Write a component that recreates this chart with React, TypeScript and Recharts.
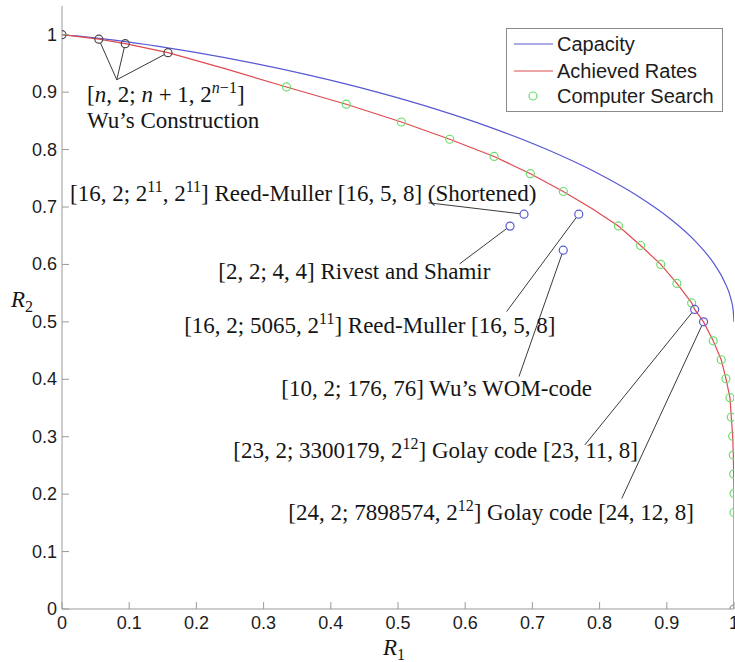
import { ComposedChart, XAxis, YAxis, Line, Scatter, ReferenceLine, ReferenceDot, Label } from "recharts"

const xTicks = [0, 0.1, 0.2, 0.3, 0.4, 0.5, 0.6, 0.7, 0.8, 0.9, 1]
const yTicks = [0, 0.1, 0.2, 0.3, 0.4, 0.5, 0.6, 0.7, 0.8, 0.9, 1]

// Capacity region boundary
const capacity = [
    { x: 0, y: 1 },
    { x: 0.0208, y: 0.998 },
    { x: 0.0454, y: 0.995 },
    { x: 0.0808, y: 0.99 },
    { x: 0.1414, y: 0.98 },
    { x: 0.1944, y: 0.97 },
    { x: 0.2423, y: 0.96 },
    { x: 0.2864, y: 0.95 },
    { x: 0.3659, y: 0.93 },
    { x: 0.469, y: 0.9 },
    { x: 0.5574, y: 0.87 },
    { x: 0.6343, y: 0.84 },
    { x: 0.7219, y: 0.8 },
    { x: 0.795, y: 0.76 },
    { x: 0.8555, y: 0.72 },
    { x: 0.9044, y: 0.68 },
    { x: 0.9427, y: 0.64 },
    { x: 0.971, y: 0.6 },
    { x: 0.9858, y: 0.57 },
    { x: 0.9954, y: 0.54 },
    { x: 0.9988, y: 0.52 },
    { x: 1, y: 0.5 },
]

// Achieved rates (red curve)
const achieved = [
    { x: 0, y: 1 },
    { x: 0.0548, y: 0.9922 },
    { x: 0.0941, y: 0.9844 },
    { x: 0.1577, y: 0.9688 },
    { x: 0.245, y: 0.94 },
    { x: 0.334, y: 0.909 },
    { x: 0.423, y: 0.879 },
    { x: 0.505, y: 0.848 },
    { x: 0.577, y: 0.818 },
    { x: 0.643, y: 0.788 },
    { x: 0.697, y: 0.758 },
    { x: 0.746, y: 0.727 },
    { x: 0.789, y: 0.697 },
    { x: 0.828, y: 0.667 },
    { x: 0.861, y: 0.633 },
    { x: 0.891, y: 0.6 },
    { x: 0.915, y: 0.567 },
    { x: 0.937, y: 0.533 },
    { x: 0.9415, y: 0.5217 },
    { x: 0.9547, y: 0.5 },
    { x: 0.969, y: 0.467 },
    { x: 0.981, y: 0.434 },
    { x: 0.988, y: 0.401 },
    { x: 0.994, y: 0.368 },
    { x: 0.996, y: 0.334 },
    { x: 0.998, y: 0.301 },
    { x: 0.999, y: 0.268 },
    { x: 0.9995, y: 0.235 },
    { x: 1, y: 0.201 },
    { x: 1, y: 0.168 },
    { x: 1, y: 0 },
]

const computerSearch = [
    { x: 0.334, y: 0.909 },
    { x: 0.423, y: 0.879 },
    { x: 0.505, y: 0.848 },
    { x: 0.577, y: 0.818 },
    { x: 0.643, y: 0.788 },
    { x: 0.697, y: 0.758 },
    { x: 0.746, y: 0.727 },
    { x: 0.828, y: 0.667 },
    { x: 0.861, y: 0.633 },
    { x: 0.891, y: 0.6 },
    { x: 0.915, y: 0.567 },
    { x: 0.937, y: 0.533 },
    { x: 0.969, y: 0.467 },
    { x: 0.981, y: 0.434 },
    { x: 0.988, y: 0.401 },
    { x: 0.994, y: 0.368 },
    { x: 0.996, y: 0.334 },
    { x: 0.998, y: 0.301 },
    { x: 0.999, y: 0.268 },
    { x: 0.9995, y: 0.235 },
    { x: 1, y: 0.201 },
    { x: 1, y: 0.168 },
]

const wuPoints = [
    { x: 0, y: 1 },
    { x: 0.0548, y: 0.9922 },
    { x: 0.0941, y: 0.9844 },
    { x: 0.1577, y: 0.9688 },
]

const codePoints = [
    { x: 0.6667, y: 0.6667 },
    { x: 0.6875, y: 0.6875 },
    { x: 0.769, y: 0.6875 },
    { x: 0.7459, y: 0.6248 },
    { x: 0.9415, y: 0.5217 },
    { x: 0.9547, y: 0.5 },
]

const cornerPoint = [{ x: 1, y: 0 }]

// leader lines: label end -> circle edge
const leaders = [
    [{ x: 0.0815, y: 0.9216 }, { x: 0.0572, y: 0.9857 }],
    [{ x: 0.0815, y: 0.9216 }, { x: 0.0927, y: 0.9775 }],
    [{ x: 0.0815, y: 0.9216 }, { x: 0.1525, y: 0.9655 }],
    [{ x: 0.5455, y: 0.7073 }, { x: 0.6815, y: 0.6883 }],
    [{ x: 0.5917, y: 0.601 }, { x: 0.6618, y: 0.6625 }],
    [{ x: 0.6617, y: 0.518 }, { x: 0.7654, y: 0.6819 }],
    [{ x: 0.68, y: 0.4047 }, { x: 0.744, y: 0.6181 }],
    [{ x: 0.778, y: 0.2857 }, { x: 0.9377, y: 0.5164 }],
    [{ x: 0.833, y: 0.1925 }, { x: 0.9522, y: 0.4937 }],
]

type Part = { t: string; sup?: boolean; it?: boolean }

const annotations: { x: number; y: number; parts: Part[] }[] = [
    {
        x: 0.0373, y: 0.8833, parts: [
            { t: "[" }, { t: "n", it: true }, { t: ", 2; " }, { t: "n", it: true }, { t: " + 1, 2" },
            { t: "n", sup: true, it: true }, { t: "−1", sup: true }, { t: "]" },
        ],
    },
    { x: 0.0373, y: 0.838, parts: [{ t: "Wu’s Construction" }] },
    {
        x: 0.0119, y: 0.7108, parts: [
            { t: "[16, 2; 2" }, { t: "11", sup: true }, { t: ", 2" }, { t: "11", sup: true },
            { t: "] Reed-Muller [16, 5, 8] (Shortened)" },
        ],
    },
    { x: 0.2325, y: 0.5749, parts: [{ t: "[2, 2; 4, 4] Rivest and Shamir" }] },
    {
        x: 0.1818, y: 0.48, parts: [
            { t: "[16, 2; 5065, 2" }, { t: "11", sup: true }, { t: "] Reed-Muller [16, 5, 8]" },
        ],
    },
    { x: 0.3264, y: 0.3702, parts: [{ t: "[10, 2; 176, 76] Wu’s WOM-code" }] },
    {
        x: 0.2548, y: 0.2631, parts: [
            { t: "[23, 2; 3300179, 2" }, { t: "12", sup: true }, { t: "] Golay code [23, 11, 8]" },
        ],
    },
    {
        x: 0.3368, y: 0.155, parts: [
            { t: "[24, 2; 7898574, 2" }, { t: "12", sup: true }, { t: "] Golay code [24, 12, 8]" },
        ],
    },
]

const sans = "'Liberation Sans', Arial, Helvetica, sans-serif"
const serif = "'Liberation Serif', 'Times New Roman', serif"
const axisColor = "#9a9a9a"
const blue = "#5858d4"
const red = "#e04a4f"
const green = "#6edc6e"

const fmt = (v: number) => String(Number(v.toFixed(1)))

const BottomTick = (p: any) => (
    <g>
        <line x1={p.x} y1={p.y} x2={p.x} y2={p.y - 7} stroke={axisColor} />
        <text x={p.x} y={p.y + 20} textAnchor="middle" fontSize={18} fill="#1c1c1c" fontFamily={sans}>
            {fmt(p.payload.value)}
        </text>
    </g>
)
const TopTick = (p: any) => <line x1={p.x} y1={p.y} x2={p.x} y2={p.y + 7} stroke={axisColor} />
const LeftTick = (p: any) => (
    <g>
        <line x1={p.x} y1={p.y} x2={p.x + 7} y2={p.y} stroke={axisColor} />
        <text x={p.x - 5} y={p.y + 6} textAnchor="end" fontSize={18} fill="#1c1c1c" fontFamily={sans}>
            {fmt(p.payload.value)}
        </text>
    </g>
)
const RightTick = (p: any) => <line x1={p.x} y1={p.y} x2={p.x - 7} y2={p.y} stroke={axisColor} />

const ring = (color: string) => (p: any) =>
    <circle cx={p.cx} cy={p.cy} r={4} fill="none" stroke={color} strokeWidth={1.2} />

const SerifLabel = ({ cx, cy, parts }: { cx: number; cy: number; parts: Part[] }) => {
    let prevSup = false
    return (
        <text x={cx} y={cy} fontFamily={serif} fontSize={23} fill="#151515" style={{ whiteSpace: "pre" }}>
            {parts.map((p, i) => {
                const dy = p.sup && !prevSup ? -9 : !p.sup && prevSup ? 9 : 0
                prevSup = !!p.sup
                return (
                    <tspan key={i} dy={dy} fontSize={p.sup ? 16 : undefined} fontStyle={p.it ? "italic" : undefined}>
                        {p.t}
                    </tspan>
                )
            })}
        </text>
    )
}

const LegendBox = () => (
    <div
        style={{
            position: "absolute", left: 506, top: 28, width: 215, height: 82,
            border: "1px solid #8a8a8a", background: "#fff", fontFamily: sans, fontSize: 20, color: "#1c1c1c",
        }}
    >
        {[
            { name: "Capacity", color: blue, kind: "line", top: 15 },
            { name: "Achieved Rates", color: red, kind: "line", top: 42 },
            { name: "Computer Search", color: green, kind: "dot", top: 67 },
        ].map((it) => (
            <div key={it.name} style={{ position: "absolute", left: 0, top: it.top - 12, height: 24, width: "100%" }}>
                <svg width={48} height={24} style={{ position: "absolute", left: 6, top: 0 }}>
                    {it.kind === "line"
                        ? <line x1={1} y1={12} x2={40} y2={12} stroke={it.color} strokeWidth={1.2} />
                        : <circle cx={20} cy={12} r={4} fill="none" stroke={it.color} strokeWidth={1.2} />}
                </svg>
                <span style={{ position: "absolute", left: 50, top: 0, lineHeight: "24px", whiteSpace: "nowrap" }}>
                    {it.name}
                </span>
            </div>
        ))}
    </div>
)

export default function App() {
    return (
        <div style={{ position: "absolute", left: 0, top: 0, width: 735, height: 662, background: "#fff" }}>
            <ComposedChart width={735} height={662} margin={{ top: 6, right: 1, bottom: 0, left: 0 }}>
                <XAxis
                    xAxisId={0} dataKey="x" type="number" domain={[0, 1]} ticks={xTicks} interval={0}
                    allowDataOverflow height={53} tickSize={0} tickMargin={0}
                    axisLine={{ stroke: axisColor }} tickLine={false} tick={BottomTick}
                >
                    <Label
                        content={(props: any) => {
                            const vb = props.viewBox
                            return (
                                <text x={vb.x + vb.width / 2 - 15} y={vb.y + 46} fontFamily={serif} fontSize={23} fill="#151515">
                                    <tspan fontStyle="italic">R</tspan>
                                    <tspan fontSize={16} dy={5}>1</tspan>
                                </text>
                            )
                        }}
                    />
                </XAxis>
                <XAxis
                    xAxisId="top" orientation="top" type="number" domain={[0, 1]} ticks={xTicks} interval={0}
                    allowDataOverflow height={0} tickSize={0} tickMargin={0}
                    axisLine={{ stroke: axisColor }} tickLine={false} tick={TopTick}
                />
                <YAxis
                    yAxisId={0} dataKey="y" type="number" domain={[0, 1.05]} ticks={yTicks} interval={0}
                    allowDataOverflow width={62} tickSize={0} tickMargin={0}
                    axisLine={{ stroke: axisColor }} tickLine={false} tick={LeftTick}
                >
                    <Label
                        content={(props: any) => {
                            const vb = props.viewBox
                            return (
                                <text x={vb.x + 11} y={vb.y + vb.height / 2 - 1} fontFamily={serif} fontSize={23} fill="#151515">
                                    <tspan fontStyle="italic">R</tspan>
                                    <tspan fontSize={16} dy={5}>2</tspan>
                                </text>
                            )
                        }}
                    />
                </YAxis>
                <YAxis
                    yAxisId="right" orientation="right" type="number" domain={[0, 1.05]} ticks={yTicks} interval={0}
                    allowDataOverflow width={0} tickSize={0} tickMargin={0}
                    axisLine={{ stroke: axisColor }} tickLine={false} tick={RightTick}
                />

                <Line data={capacity} dataKey="y" type="monotone" stroke={blue} strokeWidth={1.2} dot={false} isAnimationActive={false} />
                <Line data={achieved} dataKey="y" type="linear" stroke={red} strokeWidth={1.2} dot={false} isAnimationActive={false} />
                <Scatter data={computerSearch} dataKey="y" shape={ring(green)} isAnimationActive={false} />
                <Scatter data={wuPoints} dataKey="y" shape={ring("#4a4a4a")} isAnimationActive={false} />
                <Scatter data={codePoints} dataKey="y" shape={ring(blue)} isAnimationActive={false} />
                <Scatter data={cornerPoint} dataKey="y" shape={ring("#8a8a8a")} isAnimationActive={false} />

                {leaders.map((seg, i) => (
                    <ReferenceLine key={"l" + i} segment={seg} stroke="#3a3a3a" strokeWidth={1} ifOverflow="visible" />
                ))}
                {annotations.map((a, i) => (
                    <ReferenceDot
                        key={"a" + i} x={a.x} y={a.y} r={0} ifOverflow="visible"
                        shape={(props: any) => <SerifLabel cx={props.cx} cy={props.cy} parts={a.parts} />}
                    />
                ))}
            </ComposedChart>
            <LegendBox />
        </div>
    )
}
